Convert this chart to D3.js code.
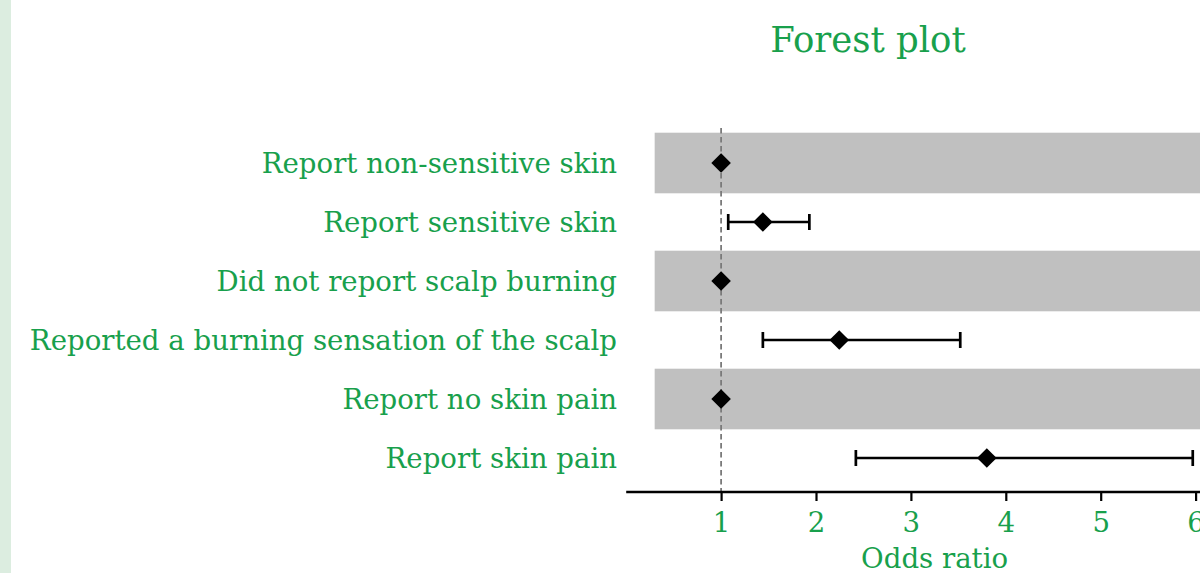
<!DOCTYPE html>
<html><head><meta charset="utf-8">
<script src="https://cdn.jsdelivr.net/npm/d3@7"></script>
<style>html,body{margin:0;padding:0;background:#fff;overflow:hidden}</style>
</head><body>
<svg id="c" width="1200" height="573"></svg>
<script>
const categories = ["Report non-sensitive skin","Report sensitive skin","Did not report scalp burning","Reported a burning sensation of the scalp","Report no skin pain","Report skin pain"];
const oddsRatio = [1, 1.44, 1, 2.245, 1, 3.80];
const ciLower = [null, 1.075, null, 1.44, null, 2.42];
const ciUpper = [null, 1.93, null, 3.52, null, 5.97];
const shaded = [true, false, true, false, true, false];
const xTicks = [1,2,3,4,5,6];
const title = "Forest plot";
const xLabel = "Odds ratio";

const green = "#18a04c";
const font = "DejaVu Serif, serif";
const fs = 27.6;
const svg = d3.select("#c");
svg.append("rect").attr("x",0).attr("y",0).attr("width",11).attr("height",573).attr("fill","#dcede0");

const x = d3.scaleLinear().domain([0, 6.6]).range([626.2, 626.2 + 6.6*94.9]);
const y = d3.scaleBand().domain(categories).range([133.5, 487.5]).paddingInner(0).paddingOuter(0);
const yc = d => y(d) + y.bandwidth()/2;

// bands
svg.selectAll("rect.band").data(categories.filter((c,i)=>shaded[i])).join("rect")
  .attr("class","band").attr("x", x(0.3)).attr("width", x(6.6)-x(0.3))
  .attr("y", d => yc(d) - 30.3).attr("height", 60.6).attr("fill","#c0c0c0");

// reference line
svg.append("line").attr("x1",x(1)).attr("x2",x(1)).attr("y1",128).attr("y2",492)
  .attr("stroke","#7a7a7a").attr("stroke-width",1.8).attr("stroke-dasharray","5.5,3.5");

// axis
const ax = svg.append("g").attr("transform","translate(0,492)")
  .call(d3.axisBottom(x).tickValues(xTicks).tickSize(9).tickPadding(11).tickFormat(d3.format("d")));
ax.select(".domain").attr("stroke","#000").attr("stroke-width",2.4).attr("d", `M${x(0)},0H${x(6.6)}`);
ax.selectAll(".tick line").attr("stroke","#000").attr("stroke-width",2.2);
ax.selectAll(".tick text").attr("fill",green).attr("font-family",font).attr("font-size",fs);

// error bars
const rows = categories.map((c,i)=>({c, or:oddsRatio[i], lo:ciLower[i], hi:ciUpper[i]}));
const eb = rows.filter(r=>r.lo!=null);
const g = svg.append("g").attr("stroke","#000").attr("stroke-width",2.7);
g.selectAll("line.ci").data(eb).join("line").attr("x1",d=>x(d.lo)).attr("x2",d=>x(d.hi)).attr("y1",d=>yc(d.c)).attr("y2",d=>yc(d.c));
g.selectAll("line.lc").data(eb).join("line").attr("x1",d=>x(d.lo)).attr("x2",d=>x(d.lo)).attr("y1",d=>yc(d.c)-8).attr("y2",d=>yc(d.c)+8);
g.selectAll("line.hc").data(eb).join("line").attr("x1",d=>x(d.hi)).attr("x2",d=>x(d.hi)).attr("y1",d=>yc(d.c)-8).attr("y2",d=>yc(d.c)+8);

// diamonds
svg.selectAll("path.pt").data(rows).join("path")
  .attr("d", d=>{const cx=x(d.or), cy=yc(d.c), s=9.8; return `M${cx},${cy-s}L${cx+s},${cy}L${cx},${cy+s}L${cx-s},${cy}Z`;})
  .attr("fill","#000");

// labels
svg.selectAll("text.lab").data(categories).join("text")
  .attr("x",617).attr("y",d=>yc(d)).attr("dy","0.35em").attr("text-anchor","end")
  .attr("fill",green).attr("font-family",font).attr("font-size",fs).text(d=>d);

svg.append("text").attr("x",868).attr("y",40).attr("dy","0.35em").attr("text-anchor","middle")
  .attr("fill",green).attr("font-family",font).attr("font-size",35.5).text(title);
svg.append("text").attr("x",x(3.25)).attr("y",558).attr("dy","0.35em").attr("text-anchor","middle")
  .attr("fill",green).attr("font-family",font).attr("font-size",fs).text(xLabel);
</script>
</body></html>
